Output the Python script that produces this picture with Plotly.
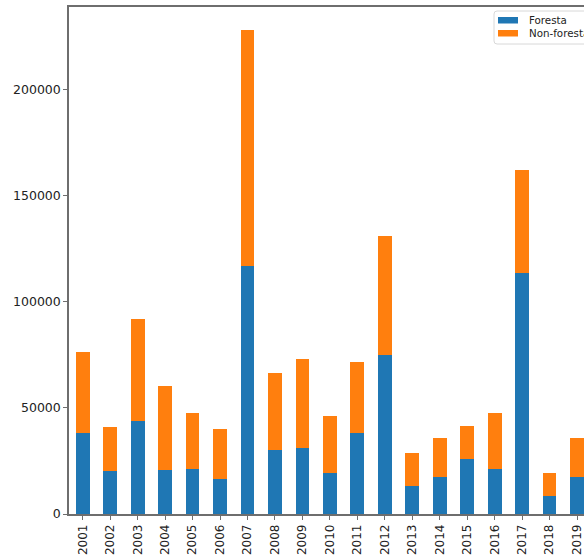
import plotly.graph_objects as go

# Annual totals split into forest and non-forest
years = [str(y) for y in range(2001, 2021)]
foresta = [38200, 20100, 44000, 20700, 21400, 16300, 116800, 30000, 31000, 19200,
           38200, 74700, 13400, 17300, 25800, 21400, 113700, 8600, 17600, 15000]
totale = [76400, 40800, 92000, 60200, 47500, 39900, 228100, 66600, 73100, 46400,
          71800, 130800, 28600, 35700, 41400, 47600, 161900, 19200, 35700, 30000]
non_foresta = [t - f for t, f in zip(totale, foresta)]

series_names = ["Foresta", "Non-forestale"]
y_ticks = [0, 50000, 100000, 150000, 200000]

BLUE = "#1f77b4"
ORANGE = "#ff7f0e"
AXIS = "#6e6e6e"
FONT = "DejaVu Sans"

fig = go.Figure()
fig.add_trace(go.Bar(x=years, y=foresta, name=series_names[0], marker_color=BLUE,
                     marker_line_width=0, width=0.5, showlegend=False))
fig.add_trace(go.Bar(x=years, y=non_foresta, name=series_names[1], marker_color=ORANGE,
                     marker_line_width=0, width=0.5, showlegend=False))

W, H = 584, 557
L, R, T, B = 69, 0, 7, 43
plot_w = W - L - R
plot_h = H - T - B
step = 27.46


def px(xp):
    return (xp - L) / plot_w


def py(yp):
    return (H - B - yp) / plot_h


# Legend box anchored in the upper-right corner (runs past the page edge)
bx0, by0, bx1, by1 = px(494), py(11), px(640), py(44)
r = 3
rx, ry = r / plot_w, r / plot_h
box_path = (f"M {bx0 + rx},{by0} L {bx1},{by0} L {bx1},{by1} L {bx0 + rx},{by1} "
            f"Q {bx0},{by1} {bx0},{by1 + ry} L {bx0},{by0 - ry} "
            f"Q {bx0},{by0} {bx0 + rx},{by0} Z")
shapes = [dict(type="path", xref="paper", yref="paper", path=box_path,
               line=dict(color="#d8d8d8", width=1), fillcolor="white", layer="above")]
annotations = []
for i, (name, col) in enumerate(zip(series_names, [BLUE, ORANGE])):
    top = 17 + i * 13
    shapes.append(dict(type="rect", xref="paper", yref="paper",
                       x0=px(498), x1=px(518), y0=py(top), y1=py(top + 6.5),
                       fillcolor=col, line=dict(width=0), layer="above"))
    annotations.append(dict(xref="paper", yref="paper", x=px(527), y=py(top + 3.3),
                            text=name, showarrow=False, xanchor="left", yanchor="middle",
                            font=dict(family=FONT, size=10.3, color="#222")))

fig.update_layout(
    width=W, height=H,
    margin=dict(l=L, r=R, t=T, b=B, pad=0),
    barmode="stack",
    plot_bgcolor="white", paper_bgcolor="white",
    font=dict(family=FONT, size=12, color="#222"),
    showlegend=False,
    shapes=shapes,
    annotations=annotations,
    xaxis=dict(
        type="category",
        range=[-0.5, plot_w / step - 0.5],
        tickangle=-90,
        ticks="outside", ticklen=4, tickcolor=AXIS, tickwidth=1,
        tickfont=dict(family=FONT, size=12, color="#222"),
        showgrid=False, zeroline=False,
        showline=True, linecolor=AXIS, linewidth=1.5, mirror=True,
    ),
    yaxis=dict(
        range=[0, 238900],
        tickvals=y_ticks, tickformat="d",
        ticks="outside", ticklen=4, tickcolor=AXIS, tickwidth=1,
        tickfont=dict(family=FONT, size=12.5, color="#222"),
        showgrid=False, zeroline=False,
        showline=True, linecolor=AXIS, linewidth=1.5, mirror=False,
    ),
)

fig.write_html("out.html")
